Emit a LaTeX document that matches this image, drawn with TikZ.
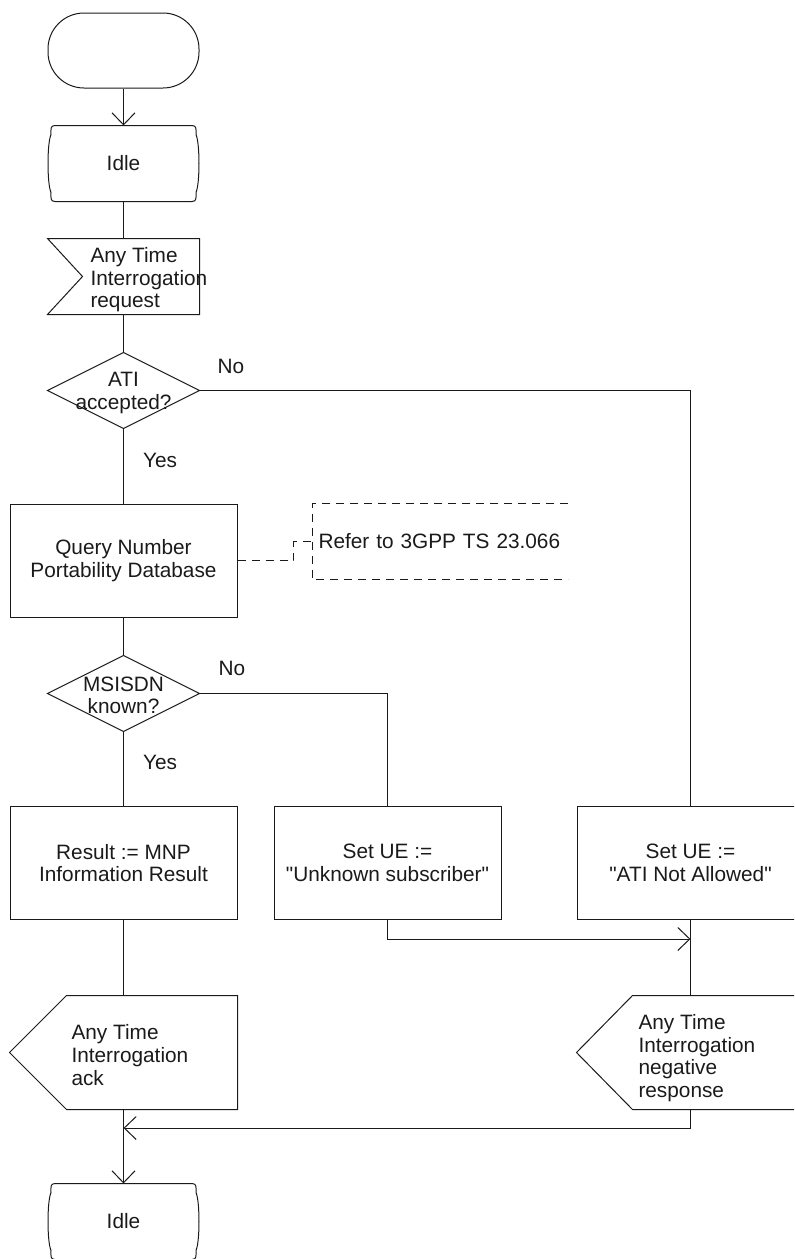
\documentclass[tikz,border=0pt]{standalone}
\usepackage{fontspec}
\setmainfont{Liberation Sans}
\usepackage{tikz}
\usetikzlibrary{positioning,arrows.meta,calc}
\definecolor{ink}{HTML}{1A1A1A}
\newcommand{\q}{\textquotedbl}

% outline of an SDL state symbol round an empty node
\newcommand{\stateoutline}[1]{%
  \draw ($(#1.north west)+(7,0)$) -- ($(#1.north east)+(-7,0)$)
    .. controls ($(#1.north east)+(-2,0)$) and ($(#1.north east)+(-3,4)$) .. ($(#1.north east)+(-3,9)$)
    .. controls ($(#1.east)+(1,-20)$) and ($(#1.east)+(1,20)$) .. ($(#1.south east)+(-3,-9)$)
    .. controls ($(#1.south east)+(-3,-4)$) and ($(#1.south east)+(-2,0)$) .. ($(#1.south east)+(-7,0)$)
    -- ($(#1.south west)+(7,0)$)
    .. controls ($(#1.south west)+(2,0)$) and ($(#1.south west)+(3,-4)$) .. ($(#1.south west)+(3,-9)$)
    .. controls ($(#1.west)+(-1,20)$) and ($(#1.west)+(-1,-20)$) .. ($(#1.north west)+(3,9)$)
    .. controls ($(#1.north west)+(3,4)$) and ($(#1.north west)+(2,0)$) .. cycle;}

\begin{document}
\begin{tikzpicture}[x=0.5pt, y=-0.5pt, draw=ink, text=ink, line width=0.5pt,
    font=\fontsize{10.4}{11.3}\selectfont,
    >={Straight Barb[length=6pt, width=11.5pt]},
    symbox/.style={inner sep=0pt, minimum width=75.5pt, minimum height=37.5pt},
    bigsym/.style={inner sep=0pt, minimum width=113.5pt, minimum height=56.5pt},
    taskbox/.style={bigsym, draw, align=center},
    txt/.style={inner sep=0pt, align=left, anchor=west},
    note/.style={dashed, dash pattern=on 4pt off 3pt}]
  \useasboundingbox (0,0) rectangle (794,1259);
  \clip (0,0) rectangle (794,1259);

  % start and first state
  \node[symbox, draw, rounded corners=18pt] (start) at (123.5,50.5) {};
  \node[symbox, minimum width=75pt] (idle1) at (123.5,163.5) {Idle};
  \stateoutline{idle1}

  % input signal
  \node[symbox] (req) at (123.5,276.5) {};
  \draw (req.north west) -- (req.north east) -- (req.south east) -- (req.south west)
    -- ($(req.west)+(35,0)$) -- cycle;
  \node[txt] (req-t) at (90,280) {Any Time\\Interrogation\\request};

  % first decision
  \node[symbox] (ati) at (123.5,390.5) {};
  \draw (ati.north) -- (ati.east) -- (ati.south) -- (ati.west) -- cycle;
  \node[inner sep=0pt, align=center] (ati-t) at (123.5,393) {ATI\\accepted?};

  \node[taskbox] (query) at (123.5,560.5) {Query Number\\Portability Database};

  % comment bracket
  \node[inner sep=0pt, inner xsep=3pt, text width=121.5pt, minimum height=37.5pt, align=left, anchor=west]
    (cmt) at (312,541.5) {Refer to 3GPP TS 23.066};
  \draw[note] (cmt.north east) -- (cmt.north west) -- (cmt.south west) -- (cmt.south east);
  \draw[note] (query.east) -- ($(query.east)+(56,0)$) |- (cmt.west);

  % second decision
  \node[symbox] (msisdn) at (123.5,693.5) {};
  \draw (msisdn.north) -- (msisdn.east) -- (msisdn.south) -- (msisdn.west) -- cycle;
  \node[inner sep=0pt, align=center] (msisdn-t) at (123.5,695.5) {MSISDN\\known?};

  \node[taskbox] (result) at (123.5,863) {Result := MNP\\Information Result};
  \node[taskbox] (unknown) at (387.5,863) {Set UE :=\\\q Unknown subscriber\q};
  \node[taskbox] (notallowed) at (690.5,863) {Set UE :=\\\q ATI Not Allowed\q};

  % output signals
  \node[bigsym] (ack) at (123.5,1052.5) {};
  \draw (ack.north east) -- (ack.south east) -- ($(ack.south west)+(57,0)$) -- (ack.west)
    -- ($(ack.north west)+(57,0)$) -- cycle;
  \node[txt] (ack-t) at (71,1055) {Any Time\\Interrogation\\ack};

  \node[bigsym] (negresp) at (690.5,1052.5) {};
  \draw (negresp.north east) -- (negresp.south east) -- ($(negresp.south west)+(56,0)$) -- (negresp.west)
    -- ($(negresp.north west)+(56,0)$) -- cycle;
  \node[txt] (negresp-t) at (638,1058) {Any Time\\Interrogation\\negative\\response};

  \node[symbox, minimum width=75pt] (idle2) at (123.5,1221.5) {Idle};
  \stateoutline{idle2}

  % labels
  \node[inner sep=0pt] (no1) at (231,366) {No};
  \node[inner sep=0pt] (yes1) at (160,460) {Yes};
  \node[inner sep=0pt] (no2) at (232,668) {No};
  \node[inner sep=0pt] (yes2) at (160,762) {Yes};

  \coordinate (j1) at (690.5,939);
  \coordinate (j2) at (123.5,1128);

  % flow lines
  \draw[->] (start) -- (idle1);
  \draw (idle1) -- (req);
  \draw (req) -- (ati.north);
  \draw (ati.south) -- (query);
  \draw (ati.east) -| (notallowed);
  \draw (query) -- (msisdn.north);
  \draw (msisdn.south) -- (result);
  \draw (msisdn.east) -| (unknown);
  \draw (result) -- (ack);
  \draw (notallowed) -- (negresp);
  \draw[->] (unknown.south) |- (j1);
  \draw[->] (ack) -- (idle2);
  \draw[->] (negresp.south) |- (j2);
\end{tikzpicture}
\end{document}
